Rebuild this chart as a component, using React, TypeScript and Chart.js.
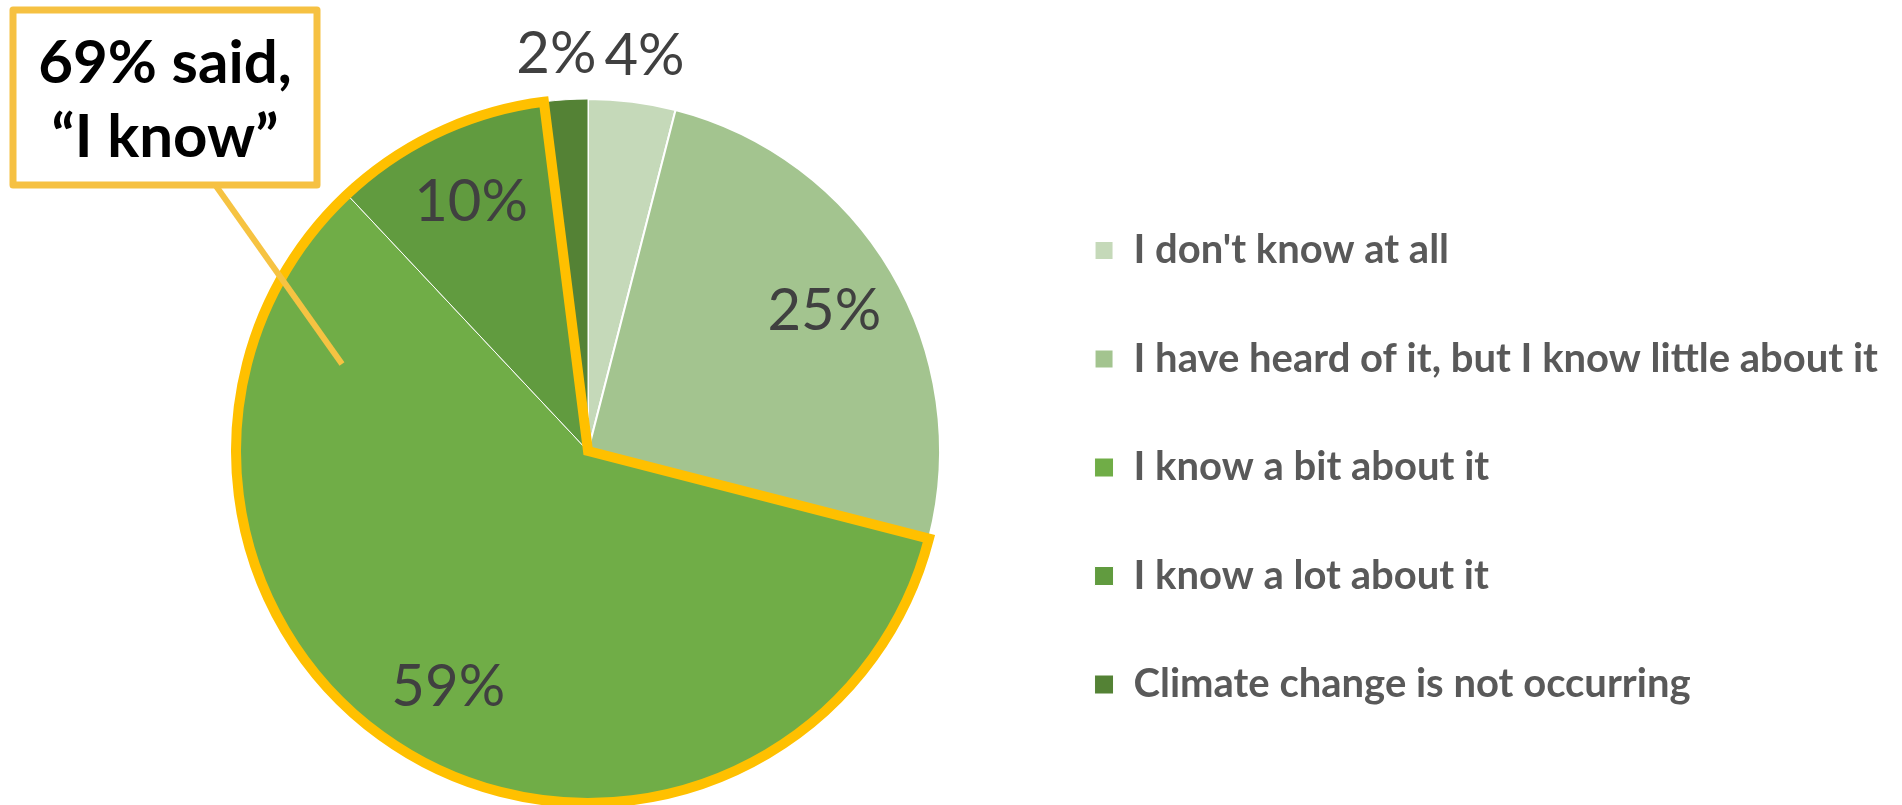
import React, { useEffect, useRef } from "react";
import { Chart, registerables } from "chart.js";

Chart.register(...registerables);

const categories = [
  "I don't know at all",
  "I have heard of it, but I know little about it",
  "I know a bit about it",
  "I know a lot about it",
  "Climate change is not occurring",
];
const values = [4, 25, 59, 10, 2];
const sliceColors = ["#C5D9B9", "#A3C48F", "#70AD47", "#619B3F", "#548235"];
const sliceBorderWidths = [2, 2, 1, 1, 1];
const highlighted = [2, 3];
const calloutLines = ["69% said,", "\u201CI know\u201D"];

const FONT = "Lato, 'Open Sans', sans-serif";

export default function App() {
  const ref = useRef<HTMLCanvasElement | null>(null);

  useEffect(() => {
    const canvas = ref.current!;

    const overlay = {
      id: "overlay",
      afterDatasetsDraw(chart: any) {
        const ctx = chart.ctx;
        const meta = chart.getDatasetMeta(0);
        const first = meta.data[highlighted[0]].getProps(["x", "y", "startAngle", "outerRadius"], true);
        const last = meta.data[highlighted[highlighted.length - 1]].getProps(["endAngle"], true);
        ctx.save();
        ctx.beginPath();
        ctx.moveTo(first.x, first.y);
        ctx.arc(first.x, first.y, first.outerRadius, first.startAngle, last.endAngle);
        ctx.closePath();
        ctx.lineWidth = 10;
        ctx.lineJoin = "miter";
        ctx.strokeStyle = "#FFC000";
        ctx.stroke();
        ctx.restore();

        ctx.save();
        ctx.font = `58px ${FONT}`;
        ctx.fillStyle = "#404040";
        ctx.textAlign = "center";
        ctx.textBaseline = "middle";
        const items = meta.data.map((el: any, i: number) => {
          const p = el.getProps(["x", "y", "startAngle", "endAngle", "outerRadius"], true);
          const mid = (p.startAngle + p.endAngle) / 2;
          const outside = values[i] < 5;
          const r = p.outerRadius * (outside ? 1.13 : 0.78);
          const text = values[i] + "%";
          return {
            text,
            outside,
            x: p.x + Math.cos(mid) * r,
            y: p.y + Math.sin(mid) * r,
            w: ctx.measureText(text).width,
          };
        });
        // push overlapping outside labels apart
        const outs = items.filter((it: any) => it.outside).sort((a: any, b: any) => a.x - b.x);
        for (let k = 1; k < outs.length; k++) {
          const a = outs[k - 1];
          const b = outs[k];
          if (Math.abs(a.y - b.y) < 50) {
            const need = (a.w + b.w) / 2 + 8;
            const gap = b.x - a.x;
            if (gap < need) {
              const d = (need - gap) / 2;
              a.x -= d;
              b.x += d;
            }
          }
        }
        items.forEach((it: any) => ctx.fillText(it.text, it.x, it.y));
        ctx.restore();
      },
      afterDraw(chart: any) {
        const ctx = chart.ctx;
        ctx.save();
        ctx.beginPath();
        ctx.moveTo(216, 186);
        ctx.lineTo(342, 364);
        ctx.lineWidth = 6;
        ctx.strokeStyle = "#F6C342";
        ctx.stroke();
        ctx.fillStyle = "#FFFFFF";
        ctx.fillRect(13, 10, 304, 175);
        ctx.lineWidth = 7;
        ctx.strokeStyle = "#F6C142";
        ctx.lineJoin = "round";
        ctx.strokeRect(13, 10, 304, 175);
        ctx.fillStyle = "#000000";
        ctx.font = `bold 60px ${FONT}`;
        ctx.textAlign = "center";
        ctx.textBaseline = "middle";
        ctx.fillText(calloutLines[0], 165, 64);
        ctx.fillText(calloutLines[1], 165, 138);
        ctx.restore();
      },
    };

    const chart = new Chart(canvas, {
      type: "pie",
      data: {
        labels: categories,
        datasets: [
          {
            data: values,
            backgroundColor: sliceColors,
            borderColor: "#FFFFFF",
            borderWidth: sliceBorderWidths,
          },
        ],
      },
      options: {
        responsive: false,
        animation: false,
        layout: { padding: { top: 98, bottom: 1, left: 150, right: 14 } },
        plugins: {
          tooltip: { enabled: false },
          legend: {
            position: "right",
            align: "center",
            title: { display: true, text: "", font: { size: 1, lineHeight: 1 }, padding: { top: 16, bottom: 16 } },
            labels: {
              color: "#595959",
              font: { family: FONT, weight: "bold", size: 40 },
              boxWidth: 19,
              boxHeight: 19,
              padding: 68.5,
            },
          },
        },
      },
      plugins: [overlay],
    });
    return () => chart.destroy();
  }, []);

  return (
    <div style={{ position: "fixed", left: 0, top: 0, width: 1902, height: 805, background: "#fff" }}>
      <canvas ref={ref} width={1902} height={805} style={{ width: 1902, height: 805 }} />
    </div>
  );
}
